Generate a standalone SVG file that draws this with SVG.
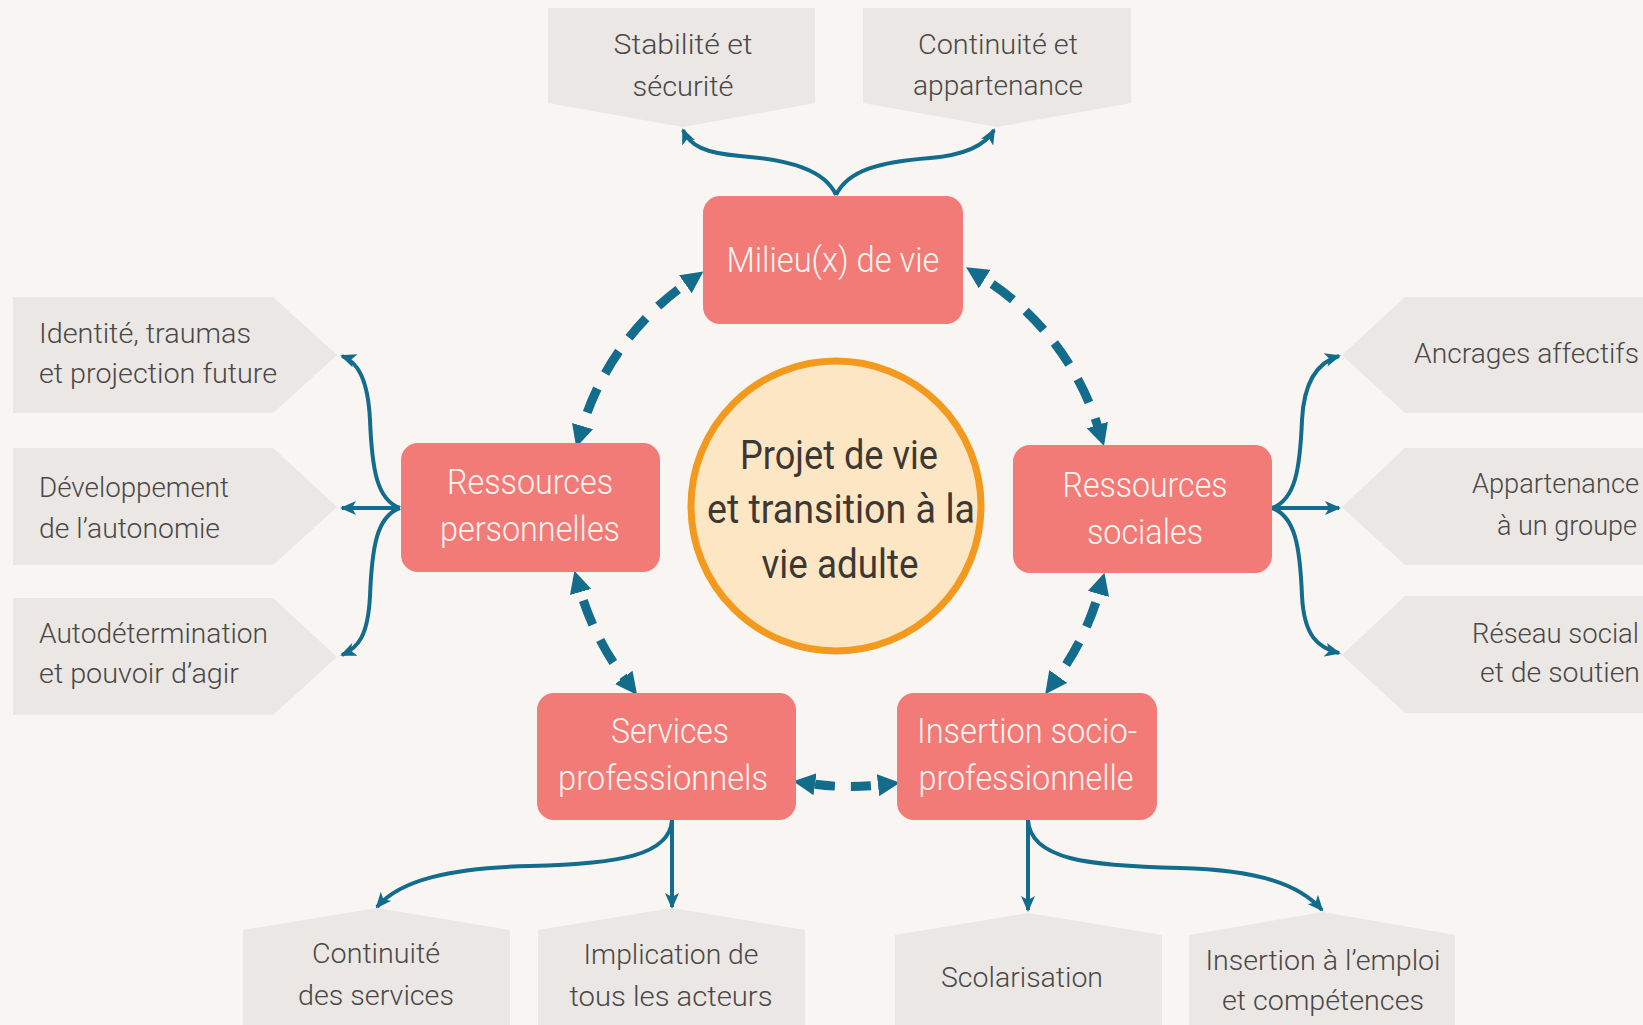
<svg xmlns="http://www.w3.org/2000/svg" width="1643" height="1025" viewBox="0 0 1643 1025">
<style>
.bg{fill:#F8F5F2}
.grey{fill:#EAE7E4}
.pink{fill:#F27A77}
.gt{font-family:Roboto,"Liberation Sans",sans-serif;font-weight:300;font-size:28px;fill:#4A4746}
.pt{font-family:Roboto,"Liberation Sans",sans-serif;font-weight:300;font-size:35px;fill:#FFF6F2;text-anchor:middle}
.ct{font-family:Roboto,"Liberation Sans",sans-serif;font-weight:400;font-size:40px;fill:#3E3834;text-anchor:middle}
.mid{text-anchor:middle}
.end{text-anchor:end}
.dash{fill:none;stroke:#136C8C;stroke-width:9;stroke-dasharray:26 17;stroke-dashoffset:32;marker-start:url(#big);marker-end:url(#big)}
.solid{fill:none;stroke:#136C8C;stroke-width:4;marker-end:url(#small)}
</style>
<defs>
<marker id="big" viewBox="0 0 22 22" markerWidth="22" markerHeight="22" markerUnits="userSpaceOnUse" refX="2" refY="11" orient="auto-start-reverse">
<path d="M0,0 L22,11 L0,22 Z" fill="#136C8C"/>
</marker>
<marker id="small" viewBox="0 0 16 14" markerWidth="16" markerHeight="14" markerUnits="userSpaceOnUse" refX="14" refY="7" orient="auto">
<path d="M0,0 L16,7 L0,14 L4,7 Z" fill="#136C8C"/>
</marker>
</defs>
<rect class="bg" x="0" y="0" width="1643" height="1025"/>

<g id="connectors">
<path class="dash" d="M687,283 A273,273 0 0 0 582,428"/>
<path class="dash" d="M983,278 A272,272 0 0 1 1098,427"/>
<path class="dash" d="M580,590 A272,272 0 0 0 625,679"/>
<path class="dash" d="M1099,592 A272,272 0 0 1 1057,678"/>
<path class="dash" d="M813,784 A275,275 0 0 0 880,785" style="stroke-dasharray:20 16;stroke-dashoffset:-2"/>
<path class="solid" d="M836,195 C825,170 790,160 740,156 C705,153 690,146 683,130"/>
<path class="solid" d="M836,195 C848,170 880,162 930,158 C965,155 985,146 994,130"/>
<path class="solid" d="M400,508 C377,500 372,470 370,420 C368,380 358,362 342,356"/>
<path class="solid" d="M400,508 L342,508"/>
<path class="solid" d="M400,508 C377,516 372,546 370,596 C368,636 358,648 342,655"/>
<path class="solid" d="M1272,508 C1295,500 1300,470 1302,420 C1304,380 1318,362 1339,356"/>
<path class="solid" d="M1272,508 L1339,508"/>
<path class="solid" d="M1272,508 C1295,516 1300,546 1302,596 C1304,636 1318,648 1339,653"/>
<path class="solid" d="M672,820 L672,907"/>
<path class="solid" d="M672,820 C670,855 620,864 530,866 C450,868 400,880 377,907"/>
<path class="solid" d="M1028,820 L1028,910"/>
<path class="solid" d="M1028,820 C1030,860 1090,866 1180,868 C1260,870 1300,885 1322,910"/>
</g>

<g id="n-stabilite">
<polygon class="grey" points="548,8 815,8 815,103 683,127 548,103"/>
<text class="gt mid" x="683" y="54" textLength="139" lengthAdjust="spacingAndGlyphs">Stabilité et</text>
<text class="gt mid" x="683" y="96" textLength="101" lengthAdjust="spacingAndGlyphs">sécurité</text>
</g>
<g id="n-continuite-appartenance">
<polygon class="grey" points="863,8 1131,8 1131,103 997,127 863,103"/>
<text class="gt mid" x="998" y="54" textLength="160" lengthAdjust="spacingAndGlyphs">Continuité et</text>
<text class="gt mid" x="998" y="95" textLength="170" lengthAdjust="spacingAndGlyphs">appartenance</text>
</g>

<g id="n-identite">
<polygon class="grey" points="13,297 273,297 337,355 273,413 13,413"/>
<text class="gt" x="39" y="343" textLength="212" lengthAdjust="spacingAndGlyphs">Identité, traumas</text>
<text class="gt" x="39" y="383" textLength="238" lengthAdjust="spacingAndGlyphs">et projection future</text>
</g>
<g id="n-developpement">
<polygon class="grey" points="13,448 273,448 337,507 273,565 13,565"/>
<text class="gt" x="39" y="497" textLength="190" lengthAdjust="spacingAndGlyphs">Développement</text>
<text class="gt" x="39" y="538" textLength="181" lengthAdjust="spacingAndGlyphs">de l’autonomie</text>
</g>
<g id="n-autodetermination">
<polygon class="grey" points="13,598 273,598 337,657 273,715 13,715"/>
<text class="gt" x="39" y="643" textLength="229" lengthAdjust="spacingAndGlyphs">Autodétermination</text>
<text class="gt" x="39" y="683" textLength="200" lengthAdjust="spacingAndGlyphs">et pouvoir d’agir</text>
</g>

<g id="n-ancrages">
<polygon class="grey" points="1405,297 1643,297 1643,413 1405,413 1342,355"/>
<text class="gt end" x="1639" y="363" textLength="225" lengthAdjust="spacingAndGlyphs">Ancrages affectifs</text>
</g>
<g id="n-appartenance-groupe">
<polygon class="grey" points="1405,448 1643,448 1643,565 1405,565 1342,507"/>
<text class="gt end" x="1639" y="493" textLength="167" lengthAdjust="spacingAndGlyphs">Appartenance</text>
<text class="gt end" x="1637" y="535" textLength="140" lengthAdjust="spacingAndGlyphs">à un groupe</text>
</g>
<g id="n-reseau">
<polygon class="grey" points="1405,596 1643,596 1643,713 1405,713 1342,655"/>
<text class="gt end" x="1639" y="643" textLength="167" lengthAdjust="spacingAndGlyphs">Réseau social</text>
<text class="gt end" x="1640" y="682" textLength="160" lengthAdjust="spacingAndGlyphs">et de soutien</text>
</g>

<g id="n-continuite-services">
<polygon class="grey" points="243,930 377,908 510,930 510,1025 243,1025"/>
<text class="gt mid" x="376" y="963" textLength="128" lengthAdjust="spacingAndGlyphs">Continuité</text>
<text class="gt mid" x="376" y="1005" textLength="156" lengthAdjust="spacingAndGlyphs">des services</text>
</g>
<g id="n-implication">
<polygon class="grey" points="538,930 672,908 805,930 805,1025 538,1025"/>
<text class="gt mid" x="671" y="964" textLength="175" lengthAdjust="spacingAndGlyphs">Implication de</text>
<text class="gt mid" x="671" y="1006" textLength="203" lengthAdjust="spacingAndGlyphs">tous les acteurs</text>
</g>
<g id="n-scolarisation">
<polygon class="grey" points="895,935 1028,913 1162,935 1162,1025 895,1025"/>
<text class="gt mid" x="1022" y="987" textLength="162" lengthAdjust="spacingAndGlyphs">Scolarisation</text>
</g>
<g id="n-insertion-emploi">
<polygon class="grey" points="1189,935 1323,912 1455,935 1455,1025 1189,1025"/>
<text class="gt mid" x="1323" y="970" textLength="235" lengthAdjust="spacingAndGlyphs">Insertion à l’emploi</text>
<text class="gt mid" x="1323" y="1010" textLength="202" lengthAdjust="spacingAndGlyphs">et compétences</text>
</g>

<g id="n-milieu">
<rect class="pink" x="703" y="196" width="260" height="128" rx="17"/>
<text class="pt" x="833" y="272" textLength="213" lengthAdjust="spacingAndGlyphs">Milieu(x) de vie</text>
</g>
<g id="n-ressources-personnelles">
<rect class="pink" x="401" y="443" width="259" height="129" rx="17"/>
<text class="pt" x="530" y="494" textLength="166" lengthAdjust="spacingAndGlyphs">Ressources</text>
<text class="pt" x="530" y="541" textLength="180" lengthAdjust="spacingAndGlyphs">personnelles</text>
</g>
<g id="n-ressources-sociales">
<rect class="pink" x="1013" y="445" width="259" height="128" rx="17"/>
<text class="pt" x="1145" y="497" textLength="165" lengthAdjust="spacingAndGlyphs">Ressources</text>
<text class="pt" x="1145" y="544" textLength="116" lengthAdjust="spacingAndGlyphs">sociales</text>
</g>
<g id="n-services">
<rect class="pink" x="537" y="693" width="259" height="127" rx="17"/>
<text class="pt" x="670" y="743" textLength="118" lengthAdjust="spacingAndGlyphs">Services</text>
<text class="pt" x="663" y="790" textLength="210" lengthAdjust="spacingAndGlyphs">professionnels</text>
</g>
<g id="n-insertion">
<rect class="pink" x="897" y="693" width="260" height="127" rx="17"/>
<text class="pt" x="1027" y="743" textLength="220" lengthAdjust="spacingAndGlyphs">Insertion socio-</text>
<text class="pt" x="1026" y="790" textLength="215" lengthAdjust="spacingAndGlyphs">professionnelle</text>
</g>

<g id="n-projet">
<circle cx="836" cy="506" r="145" fill="#FDE6C4" stroke="#F39A1E" stroke-width="7"/>
<text class="ct" x="839" y="469" textLength="198" lengthAdjust="spacingAndGlyphs">Projet de vie</text>
<text class="ct" x="841" y="523" textLength="268" lengthAdjust="spacingAndGlyphs">et transition à la</text>
<text class="ct" x="840" y="578" textLength="157" lengthAdjust="spacingAndGlyphs">vie adulte</text>
</g>
</svg>
